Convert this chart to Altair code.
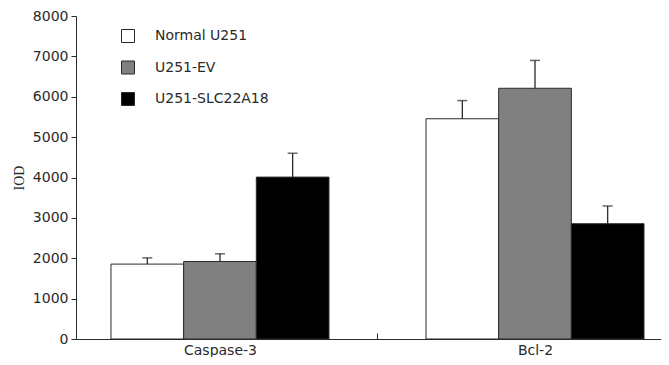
import altair as alt
import pandas as pd

groups = ["Caspase-3", "Bcl-2"]
conditions = ["Normal U251", "U251-EV", "U251-SLC22A18"]
caspase_vals = [1855, 1920, 4010]
caspase_err = [155, 190, 590]
bcl_vals = [5455, 6210, 2855]
bcl_err = [450, 690, 440]
colors = ["#ffffff", "#808080", "#000000"]
y_ticks = [0, 1000, 2000, 3000, 4000, 5000, 6000, 7000, 8000]

rows = []
for g, vals, errs in [(groups[0], caspase_vals, caspase_err), (groups[1], bcl_vals, bcl_err)]:
    for c, v, e in zip(conditions, vals, errs):
        rows.append({"group": g, "cond": c, "value": v, "top": v + e})
df = pd.DataFrame(rows)

FONT = "DejaVu Sans"
INK = "#2a2a2a"

x_enc = alt.X(
    "group:N",
    sort=groups,
    scale=alt.Scale(paddingInner=0.308, paddingOuter=0.0825, align=0.673),
    axis=alt.Axis(
        title=None,
        labelAngle=0,
        labelFont=FONT,
        labelFontSize=14,
        labelColor=INK,
        labelPadding=10,
        bandPosition=1,
        tickExtra=False,
        tickOffset=48.5,
        labelOffset=-48.5,
        tickSize={"expr": "-6"},
        tickWidth=1,
        tickColor={"condition": {"test": "datum.value === 'Caspase-3'", "value": INK}, "value": "transparent"},
        domainColor=INK,
        domainWidth=1,
    ),
)
xo_enc = alt.XOffset("cond:N", sort=conditions, scale=alt.Scale(paddingInner=0, paddingOuter=0))
y_scale = alt.Scale(domain=[0, 8000], nice=False)

base = alt.Chart(df)

bars = base.mark_bar(stroke=INK, strokeWidth=1).encode(
    x=x_enc,
    xOffset=xo_enc,
    y=alt.Y(
        "value:Q",
        scale=y_scale,
        axis=alt.Axis(
            values=y_ticks,
            format="d",
            title="IOD",
            titleFont="Liberation Serif",
            titleFontSize=14,
            titleFontWeight="normal",
            titleColor=INK,
            titlePadding=6,
            labelFont=FONT,
            labelFontSize=14,
            labelColor=INK,
            labelPadding=3,
            tickSize=5,
            tickColor=INK,
            domainColor=INK,
            grid=False,
        ),
    ),
    fill=alt.Fill(
        "cond:N",
        sort=conditions,
        scale=alt.Scale(domain=conditions, range=colors),
        legend=alt.Legend(
            title=None,
            orient="none",
            legendX=45,
            legendY=13,
            symbolType="square",
            symbolSize=169,
            symbolStrokeColor=INK,
            symbolStrokeWidth=1,
            symbolOpacity=1,
            labelFont=FONT,
            labelFontSize=14,
            labelColor=INK,
            labelOffset=20,
            rowPadding=13.5,
            padding=0,
        ),
    ),
)

errs = base.mark_rule(color=INK, strokeWidth=1.3).encode(
    x=x_enc,
    xOffset=xo_enc,
    y=alt.Y("value:Q", scale=y_scale),
    y2="top:Q",
)

caps = base.mark_tick(color=INK, size=10, thickness=1.5, orient="horizontal").encode(
    x=x_enc,
    xOffset=xo_enc,
    y=alt.Y("top:Q", scale=y_scale),
)

chart = (
    alt.layer(bars, errs, caps)
    .properties(
        width=585,
        height=323,
        autosize="none",
        padding={"left": 68, "top": 8, "right": 0, "bottom": 18},
        background="white",
    )
    .configure_view(stroke=None)
)

chart.save("out.html", embed_options={"renderer": "svg", "actions": False})
